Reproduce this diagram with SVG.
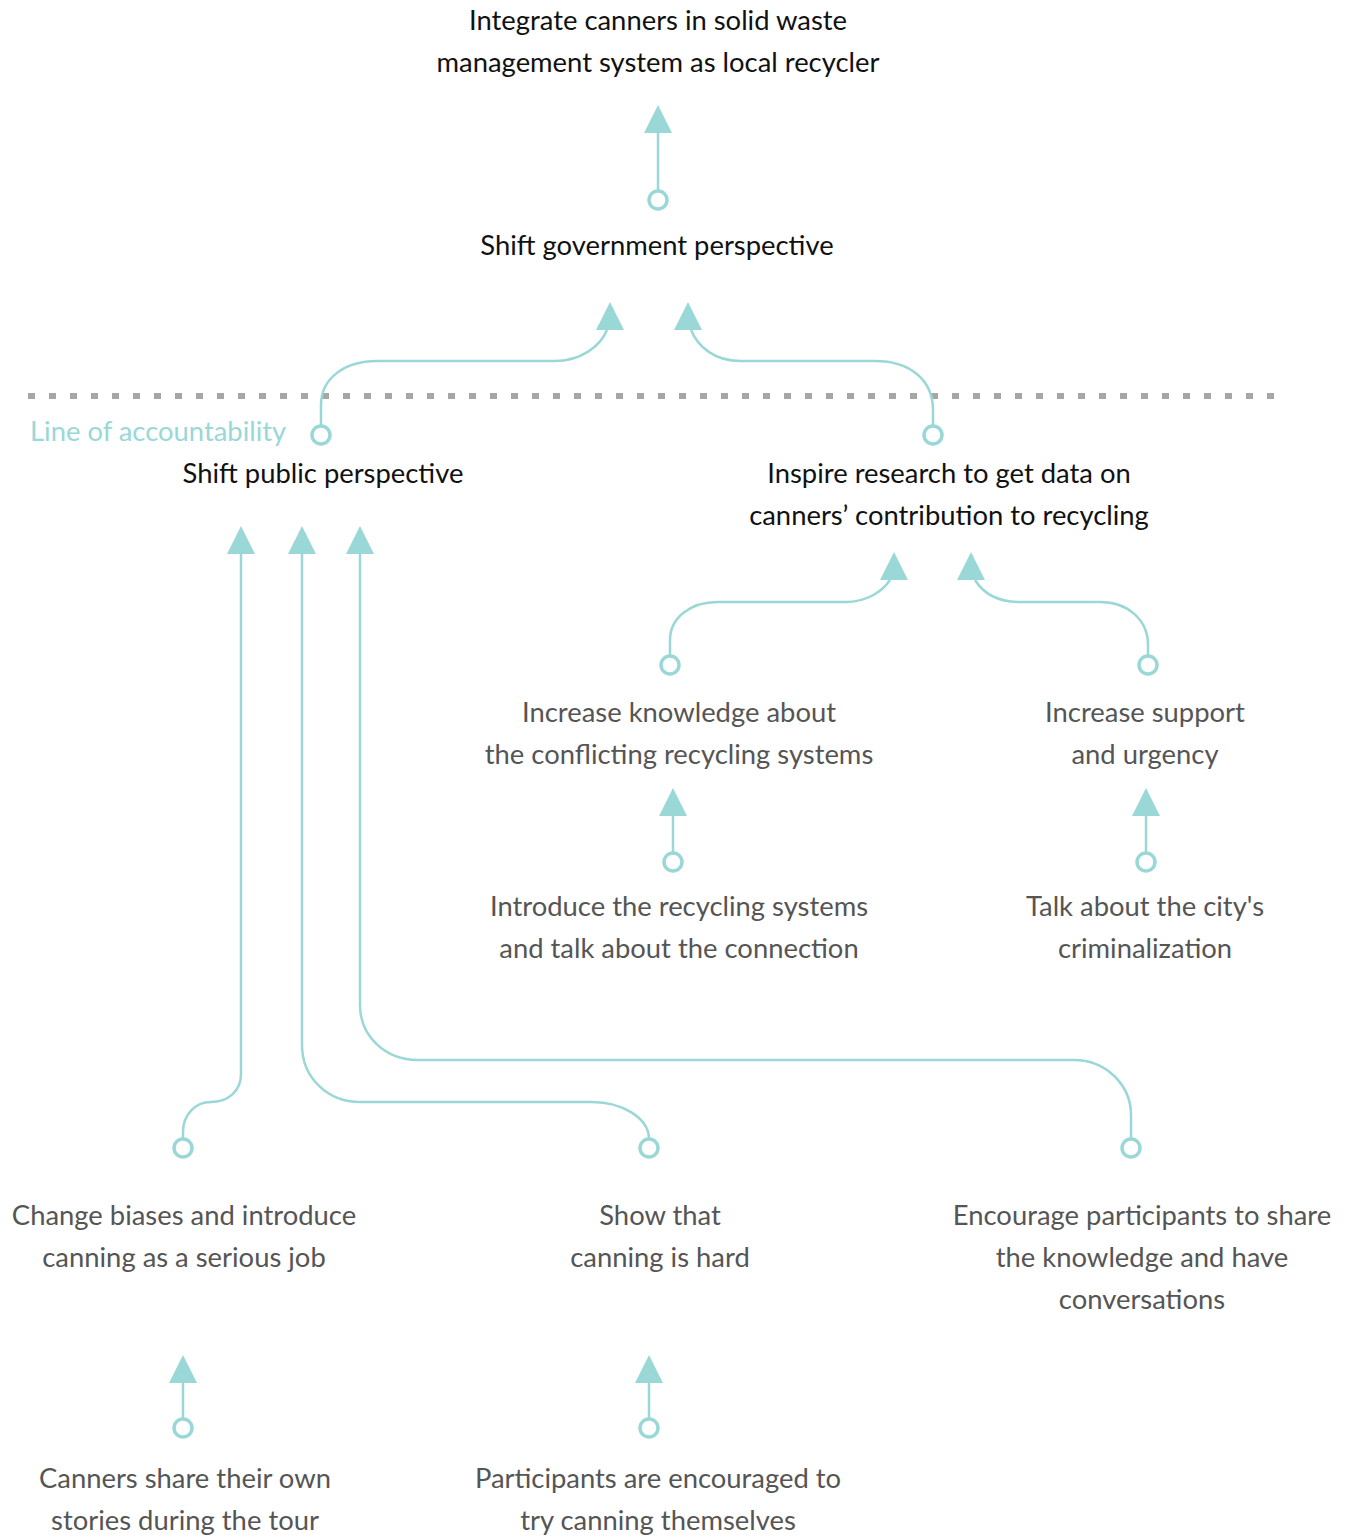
<svg xmlns="http://www.w3.org/2000/svg" width="1354" height="1539" viewBox="0 0 1354 1539">
  <style>
    text { font-family: Lato, "Open Sans", sans-serif; font-size: 27.4px; text-anchor: middle; }
    .main { fill: #111111; }
    .sub { fill: #555555; }
    .note { fill: #9ad7d7; text-anchor: start; }
    .wire { fill: none; stroke: #9ad7d7; stroke-width: 2.5; }
    .tip { fill: #9ad7d7; }
    .dot { fill: #ffffff; stroke: #9ad7d7; stroke-width: 3.5; }
    .divider { stroke: #a6a6a6; stroke-width: 6; stroke-dasharray: 7 14; fill: none; }
  </style>
  <defs>
    <polygon id="head" class="tip" points="0,0 14,28 -14,28"/>
    <circle id="socket" class="dot" r="9"/>
  </defs>

  <rect width="1354" height="1539" fill="#ffffff"/>

  <!-- line of accountability -->
  <path class="divider" d="M28,396 H1286"/>
  <text class="note" x="30" y="441">Line of accountability</text>

  <g id="connectors">
    <!-- government -> integrate -->
    <path class="wire" d="M658,133 V191"/>
    <use href="#head" x="658" y="105"/>
    <use href="#socket" x="658" y="200"/>

    <!-- public -> government -->
    <path class="wire" d="M321,426 V405 C321,378 345,361 377,361 H555 C580,361 600,347 607,330"/>
    <use href="#head" x="610" y="302"/>
    <use href="#socket" x="321" y="435"/>

    <!-- research -> government -->
    <path class="wire" d="M933,426 V410 C933,380 910,361 875,361 H740 C715,361 698,347 691,330"/>
    <use href="#head" x="688" y="302"/>
    <use href="#socket" x="933" y="435"/>

    <!-- knowledge -> research -->
    <path class="wire" d="M670,656 V640 C670,618 690,602 718,602 H846 C866,602 882,592 890,580"/>
    <use href="#head" x="894" y="552"/>
    <use href="#socket" x="670" y="665"/>

    <!-- support -> research -->
    <path class="wire" d="M1148,656 V645 C1148,620 1128,602 1100,602 H1020 C998,602 983,593 975,580"/>
    <use href="#head" x="971" y="552"/>
    <use href="#socket" x="1148" y="665"/>

    <!-- introduce -> knowledge -->
    <path class="wire" d="M673,816 V853"/>
    <use href="#head" x="673" y="788"/>
    <use href="#socket" x="673" y="862"/>

    <!-- criminalization -> support -->
    <path class="wire" d="M1146,816 V853"/>
    <use href="#head" x="1146" y="788"/>
    <use href="#socket" x="1146" y="862"/>

    <!-- biases -> public -->
    <path class="wire" d="M241,554 V1074 C241,1091 228,1102 211,1102 C195,1102 183,1115 183,1132 V1139"/>
    <use href="#head" x="241" y="526"/>
    <use href="#socket" x="183" y="1148"/>

    <!-- hard -> public -->
    <path class="wire" d="M302,554 V1045 C302,1078 328,1102 360,1102 H592 C622,1102 649,1118 649,1139"/>
    <use href="#head" x="302" y="526"/>
    <use href="#socket" x="649" y="1148"/>

    <!-- share -> public -->
    <path class="wire" d="M360,554 V1005 C360,1036 385,1060 418,1060 H1074 C1106,1060 1131,1085 1131,1115 V1139"/>
    <use href="#head" x="360" y="526"/>
    <use href="#socket" x="1131" y="1148"/>

    <!-- stories -> biases -->
    <path class="wire" d="M183,1383 V1419"/>
    <use href="#head" x="183" y="1355"/>
    <use href="#socket" x="183" y="1428"/>

    <!-- try canning -> hard -->
    <path class="wire" d="M649,1383 V1419"/>
    <use href="#head" x="649" y="1355"/>
    <use href="#socket" x="649" y="1428"/>
  </g>

  <g id="integrate">
    <text class="main" x="658" y="30">Integrate canners in solid waste</text>
    <text class="main" x="658" y="72">management system as local recycler</text>
  </g>
  <g id="government">
    <text class="main" x="657" y="255">Shift government perspective</text>
  </g>
  <g id="public">
    <text class="main" x="323" y="483">Shift public perspective</text>
  </g>
  <g id="research">
    <text class="main" x="949" y="483">Inspire research to get data on</text>
    <text class="main" x="949" y="525">canners’ contribution to recycling</text>
  </g>
  <g id="knowledge">
    <text class="sub" x="679" y="722">Increase knowledge about</text>
    <text class="sub" x="679" y="764">the conflicting recycling systems</text>
  </g>
  <g id="support">
    <text class="sub" x="1145" y="722">Increase support</text>
    <text class="sub" x="1145" y="764">and urgency</text>
  </g>
  <g id="introduce">
    <text class="sub" x="679" y="916">Introduce the recycling systems</text>
    <text class="sub" x="679" y="958">and talk about the connection</text>
  </g>
  <g id="criminalization">
    <text class="sub" x="1145" y="916">Talk about the city's</text>
    <text class="sub" x="1145" y="958">criminalization</text>
  </g>
  <g id="biases">
    <text class="sub" x="184" y="1225">Change biases and introduce</text>
    <text class="sub" x="184" y="1267">canning as a serious job</text>
  </g>
  <g id="hard">
    <text class="sub" x="660" y="1225">Show that</text>
    <text class="sub" x="660" y="1267">canning is hard</text>
  </g>
  <g id="share">
    <text class="sub" x="1142" y="1225">Encourage participants to share</text>
    <text class="sub" x="1142" y="1267">the knowledge and have</text>
    <text class="sub" x="1142" y="1309">conversations</text>
  </g>
  <g id="stories">
    <text class="sub" x="185" y="1488">Canners share their own</text>
    <text class="sub" x="185" y="1530">stories during the tour</text>
  </g>
  <g id="try">
    <text class="sub" x="658" y="1488">Participants are encouraged to</text>
    <text class="sub" x="658" y="1530">try canning themselves</text>
  </g>
</svg>
